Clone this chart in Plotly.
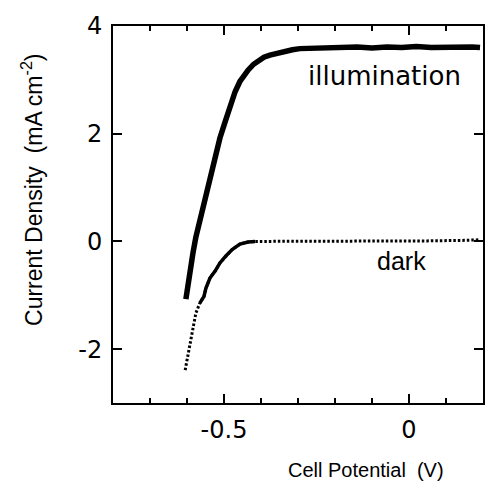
import plotly.graph_objects as go

# Illumination J-V curve (V, mA cm^-2)
illum_v = [-0.603, -0.598, -0.592, -0.584, -0.576, -0.565, -0.551, -0.538, -0.524, -0.511,
           -0.497, -0.484, -0.470, -0.457, -0.446, -0.435, -0.420, -0.408, -0.392, -0.376,
           -0.355, -0.335, -0.315, -0.295, -0.26, -0.22, -0.18, -0.14, -0.10, -0.06,
           -0.02, 0.02, 0.06, 0.10, 0.14, 0.17, 0.192]
illum_j = [-1.07, -0.82, -0.56, -0.22, 0.08, 0.40, 0.80, 1.20, 1.62, 1.92,
           2.22, 2.52, 2.78, 2.97, 3.10, 3.18, 3.29, 3.36, 3.42, 3.46,
           3.50, 3.53, 3.56, 3.58, 3.59, 3.61, 3.60, 3.61, 3.59, 3.61,
           3.60, 3.62, 3.60, 3.61, 3.60, 3.61, 3.60]

# Dark J-V curve
dark_v = [-0.605, -0.597, -0.592, -0.584, -0.576, -0.565, -0.554, -0.549, -0.538, -0.524,
          -0.511, -0.495, -0.478, -0.457, -0.435, -0.416, -0.35, -0.25, -0.15, -0.05,
          0.05, 0.15, 0.192]
dark_j = [-2.39, -2.12, -1.90, -1.62, -1.33, -1.14, -1.02, -0.87, -0.68, -0.55,
          -0.40, -0.27, -0.15, -0.05, -0.01, 0.00, 0.00, 0.00, 0.01, 0.01,
          0.01, 0.02, 0.03]

x_tickvals = [-0.5, 0]
x_ticktext = ["-0.5", "0"]
y_tickvals = [-2, 0, 2, 4]
y_ticktext = ["-2", "0", "2", "4"]

fig = go.Figure()
fig.add_trace(go.Scatter(x=illum_v, y=illum_j, mode="lines",
                         line=dict(color="black", width=5.5), showlegend=False))
fig.add_trace(go.Scatter(x=dark_v, y=dark_j, mode="lines",
                         line=dict(color="black", width=3, dash="2.5px,2px"), showlegend=False))
fig.add_trace(go.Scatter(x=dark_v[5:16], y=dark_j[5:16], mode="lines",
                         line=dict(color="black", width=3.5), showlegend=False))

ann = dict(xref="paper", yref="paper", showarrow=False, xanchor="center", yanchor="middle")
fig.add_annotation(x=0.735, y=0.867, text="illumination",
                   font=dict(family="DejaVu Sans", size=26, color="black"), **ann)
fig.add_annotation(x=0.78, y=0.376, text="dark",
                   font=dict(family="Liberation Sans", size=25, color="black"), **ann)
fig.add_annotation(x=0.684, y=-0.178, text="Cell Potential  (V)",
                   font=dict(family="Liberation Sans", size=20, color="black"), **ann)
fig.add_annotation(x=-0.219, y=0.565, text="Current Density  (mA cm<sup>-2</sup>)",
                   textangle=-90,
                   font=dict(family="Liberation Sans", size=23, color="black"), **ann)

axis_common = dict(showgrid=False, zeroline=False, showline=True, linecolor="black",
                   linewidth=2, mirror="ticks", ticks="inside", tickcolor="black",
                   tickwidth=2, ticklen=9,
                   tickfont=dict(family="DejaVu Sans", size=24, color="black"))

fig.update_xaxes(range=[-0.8, 0.2], tickmode="array", tickvals=x_tickvals, ticktext=x_ticktext,
                 minor=dict(dtick=0.1, tick0=0, ticks="inside", ticklen=5, tickwidth=2,
                            tickcolor="black"),
                 ticklabelstandoff=4, **axis_common)
fig.update_yaxes(range=[-3, 4], tickmode="array", tickvals=y_tickvals, ticktext=y_ticktext,
                 ticklabelstandoff=4, **axis_common)

fig.update_layout(width=499, height=489, margin=dict(l=113, r=16, t=22, b=86),
                  plot_bgcolor="white", paper_bgcolor="white")

fig.write_html("out.html")
